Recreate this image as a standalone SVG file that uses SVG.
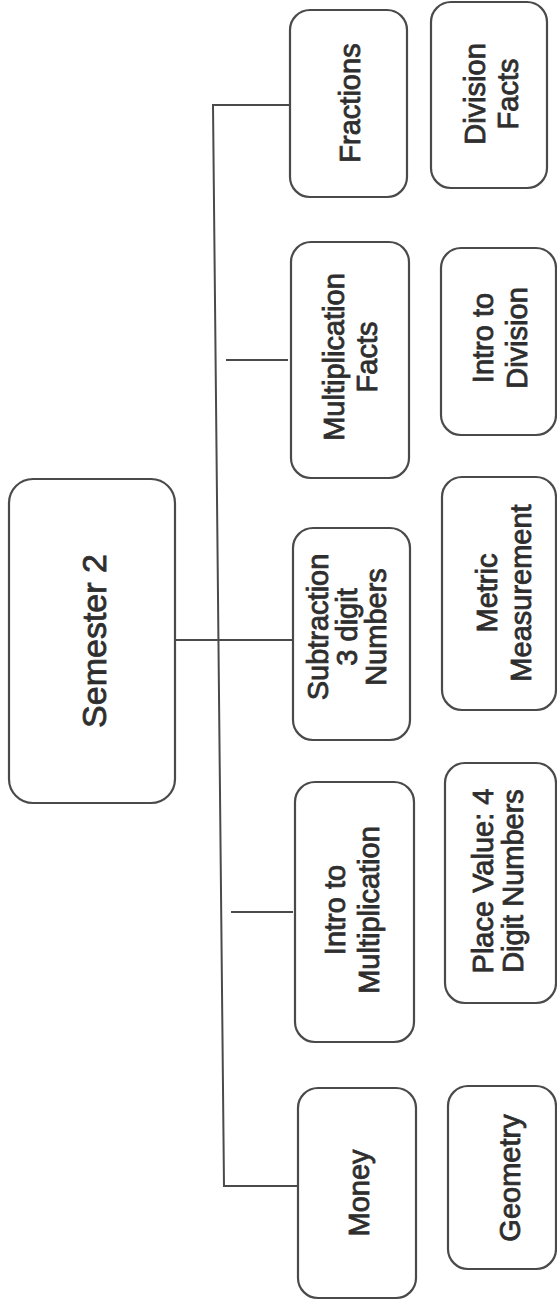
<svg xmlns="http://www.w3.org/2000/svg" width="557" height="1302" viewBox="0 0 557 1302">
<style>
  .box { fill: #ffffff; stroke: #4a4a4a; stroke-width: 2.2; }
  .lbl { font-family: "Liberation Sans", Arial, sans-serif; font-size: 29px; fill: #2e2e2e; stroke: #2e2e2e; stroke-width: 0.8; text-anchor: middle; }
  .big { font-size: 34px; }
  .conn { fill: none; stroke: #4a4a4a; stroke-width: 2; }
</style>
<rect width="557" height="1302" fill="#ffffff"/>
<g id="connectors">
  <polyline class="conn" points="289,105 213,105 224,1186 298,1186"/>
  <line class="conn" x1="226" y1="360" x2="288" y2="360"/>
  <line class="conn" x1="175" y1="640" x2="292" y2="640"/>
  <line class="conn" x1="231" y1="912" x2="293" y2="912"/>
</g>
<g id="semester2">
  <rect class="box" x="9" y="479" width="166" height="324" rx="24"/>
  <text class="lbl big" transform="translate(106,641) rotate(-90)">Semester 2</text>
</g>
<g id="fractions">
  <rect class="box" x="290" y="10" width="117" height="187" rx="20"/>
  <text class="lbl" transform="translate(360,103) rotate(-90)">Fractions</text>
</g>
<g id="division-facts">
  <rect class="box" x="431" y="2" width="116" height="186" rx="20"/>
  <text class="lbl" transform="translate(485,94) rotate(-90)"><tspan x="0" y="0">Division</tspan><tspan x="0" y="33">Facts</tspan></text>
</g>
<g id="multiplication-facts">
  <rect class="box" x="291" y="242" width="118" height="236" rx="20"/>
  <text class="lbl" transform="translate(344,357) rotate(-90)"><tspan x="0" y="0">Multiplication</tspan><tspan x="0" y="33">Facts</tspan></text>
</g>
<g id="intro-to-division">
  <rect class="box" x="441" y="248" width="115" height="187" rx="20"/>
  <text class="lbl" transform="translate(493,338) rotate(-90)"><tspan x="0" y="0">Intro to</tspan><tspan x="0" y="34">Division</tspan></text>
</g>
<g id="subtraction">
  <rect class="box" x="293" y="528" width="117" height="212" rx="20"/>
  <text class="lbl" transform="translate(328,627) rotate(-90)"><tspan x="0" y="0">Subtraction</tspan><tspan x="0" y="29">3 digit</tspan><tspan x="0" y="58">Numbers</tspan></text>
</g>
<g id="metric-measurement">
  <rect class="box" x="442" y="477" width="114" height="233" rx="20"/>
  <text class="lbl" transform="translate(497,593) rotate(-90)"><tspan x="0" y="0">Metric</tspan><tspan x="0" y="34">Measurement</tspan></text>
</g>
<g id="intro-to-multiplication">
  <rect class="box" x="295" y="782" width="119" height="260" rx="20"/>
  <text class="lbl" transform="translate(345,910) rotate(-90)"><tspan x="0" y="0">Intro to</tspan><tspan x="0" y="34">Multiplication</tspan></text>
</g>
<g id="place-value">
  <rect class="box" x="445" y="763" width="111" height="240" rx="20"/>
  <text class="lbl" transform="translate(493,881) rotate(-90)"><tspan x="0" y="0">Place Value: 4</tspan><tspan x="0" y="30">Digit Numbers</tspan></text>
</g>
<g id="money">
  <rect class="box" x="298" y="1088" width="118" height="210" rx="20"/>
  <text class="lbl" transform="translate(369,1193) rotate(-90)">Money</text>
</g>
<g id="geometry">
  <rect class="box" x="448" y="1086" width="108" height="183" rx="20"/>
  <text class="lbl" transform="translate(520,1178) rotate(-90)">Geometry</text>
</g>
</svg>
